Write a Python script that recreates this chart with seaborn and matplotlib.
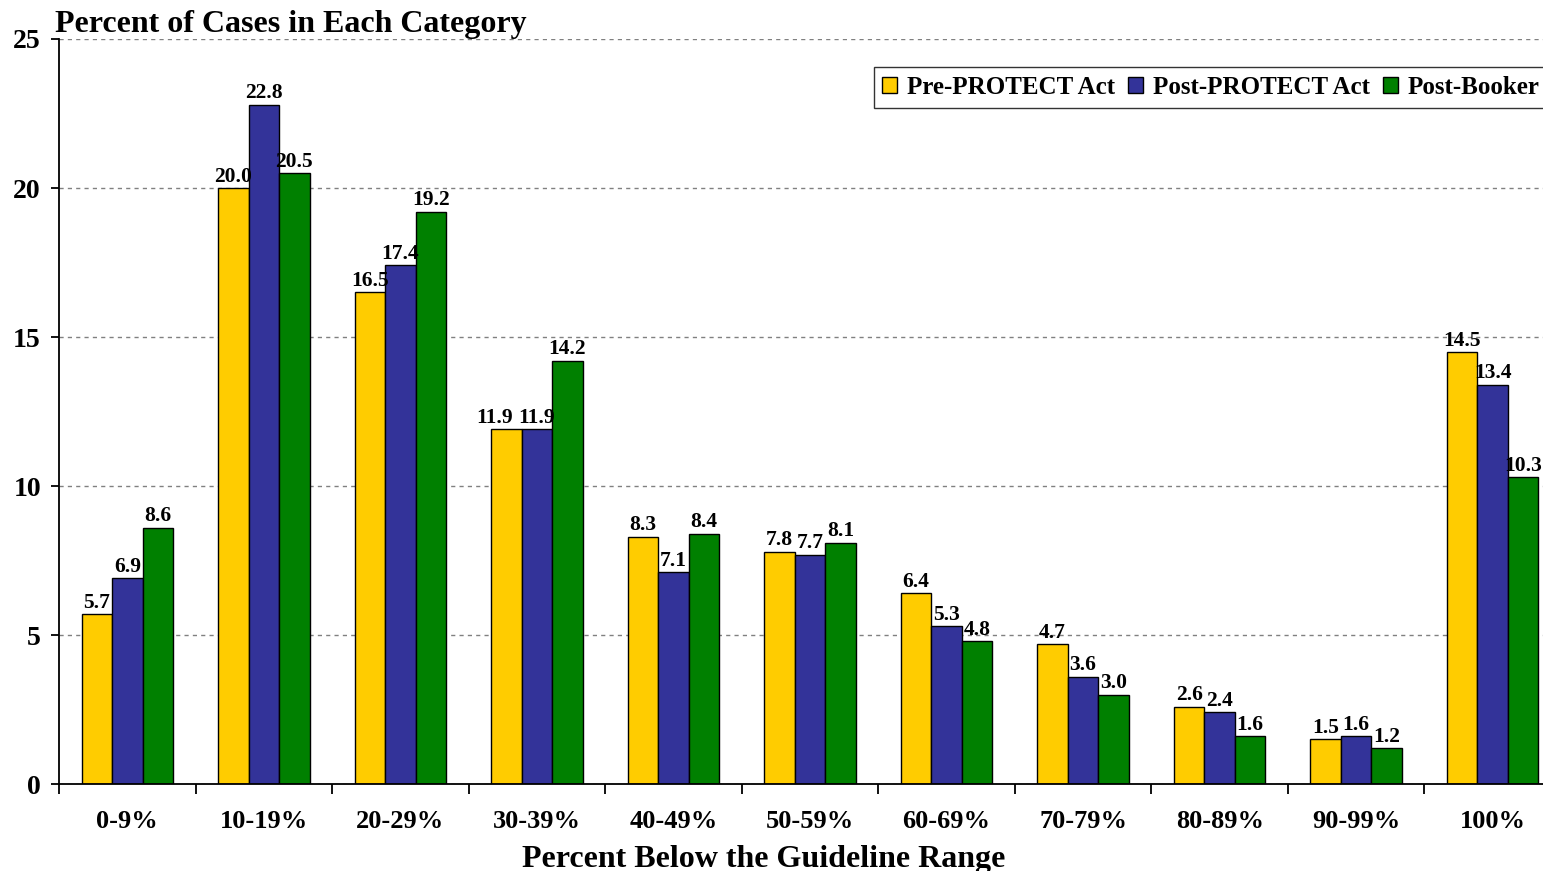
import numpy as np
import pandas as pd
import matplotlib
matplotlib.use("Agg")
import matplotlib.pyplot as plt
import seaborn as sns

categories = ["0-9%", "10-19%", "20-29%", "30-39%", "40-49%", "50-59%",
              "60-69%", "70-79%", "80-89%", "90-99%", "100%"]
series = ["Pre-PROTECT Act", "Post-PROTECT Act", "Post-Booker"]
pre_protect = [5.7, 20.0, 16.5, 11.9, 8.3, 7.8, 6.4, 4.7, 2.6, 1.5, 14.5]
post_protect = [6.9, 22.8, 17.4, 11.9, 7.1, 7.7, 5.3, 3.6, 2.4, 1.6, 13.4]
post_booker = [8.6, 20.5, 19.2, 14.2, 8.4, 8.1, 4.8, 3.0, 1.6, 1.2, 10.3]
colors = ["#FFCC00", "#333399", "#008000"]

df = pd.DataFrame({
    "category": categories * 3,
    "series": [s for s in series for _ in categories],
    "value": pre_protect + post_protect + post_booker,
})

sns.set_style("white")
plt.rcParams["font.family"] = ["Liberation Serif", "DejaVu Serif"]
plt.rcParams["font.weight"] = "bold"
plt.rcParams["text.color"] = "black"
plt.rcParams["axes.labelcolor"] = "black"
plt.rcParams["xtick.color"] = "black"
plt.rcParams["ytick.color"] = "black"

fig = plt.figure(figsize=(15.43, 8.71), dpi=100)
ax = fig.add_axes([59 / 1543, 1 - 784 / 871, 1502 / 1543, 745 / 871])

sns.barplot(data=df, x="category", y="value", hue="series", order=categories,
            hue_order=series, palette=colors, width=0.67, gap=0,
            edgecolor="black", linewidth=1, saturation=1, ax=ax)

labels = []
for cont in ax.containers:
    labels.append(ax.bar_label(cont, fmt="%.1f", padding=1, fontsize=15.5, fontweight="bold"))

ax.set_ylim(0, 25)
ax.set_xlim(-0.5, len(categories) - 0.5)
ax.set_yticks([0, 5, 10, 15, 20, 25])
ax.set_yticklabels(["0", "5", "10", "15", "20", "25"], fontsize=20, fontweight="bold")
ax.yaxis.grid(True, linestyle=(0, (3, 3)), color="#808080", linewidth=1)
ax.set_axisbelow(True)

ax.set_xticks(range(len(categories)))
ax.set_xticklabels(categories, fontsize=19, fontweight="bold")
ax.set_xticks(np.arange(-0.5, len(categories), 1), minor=True)
ax.tick_params(axis="x", which="major", length=0, pad=19)
ax.tick_params(axis="x", which="minor", length=7, width=1.3, direction="out", color="black")
ax.tick_params(axis="y", length=6, width=1.3, direction="out", color="black", pad=7)
ax.xaxis.set_ticks_position("bottom")
ax.yaxis.set_ticks_position("left")

for side in ["top", "right"]:
    ax.spines[side].set_visible(False)
for side in ["left", "bottom"]:
    ax.spines[side].set_color("black")
    ax.spines[side].set_linewidth(1.3)

ax.set_xlabel("")
ax.set_ylabel("")
fig.text(764 / 1543, 1 - 867 / 871, "Percent Below the Guideline Range",
         fontsize=23, fontweight="bold", ha="center", va="baseline")

leg = ax.legend(loc="upper right", bbox_to_anchor=(0.9915, 0.9624), ncol=3,
                frameon=True, fancybox=False, edgecolor="black",
                prop={"size": 18, "weight": "bold"}, handlelength=0.6,
                handleheight=0.6, handletextpad=0.4, columnspacing=0.5,
                borderpad=0.35, borderaxespad=0)
leg.get_frame().set_linewidth(1)

fig.text(55 / 1543, 1 - 32 / 871, "Percent of Cases in Each Category",
         fontsize=23, fontweight="bold", ha="left", va="baseline")

# nudge the first label left when it collides with its neighbour (like Excel does)
fig.canvas.draw()
renderer = fig.canvas.get_renderer()
for first, second in zip(labels[0], labels[1]):
    b1 = first.get_window_extent(renderer)
    b2 = second.get_window_extent(renderer)
    if b1.x1 > b2.x0 and b1.y1 > b2.y0 and b2.y1 > b1.y0:
        shift = (b1.x1 - b2.x0 + 6) * 72 / fig.dpi
        dx, dy = first.xyann
        first.xyann = (dx - shift, dy)

fig.savefig("out.png", dpi=100)
